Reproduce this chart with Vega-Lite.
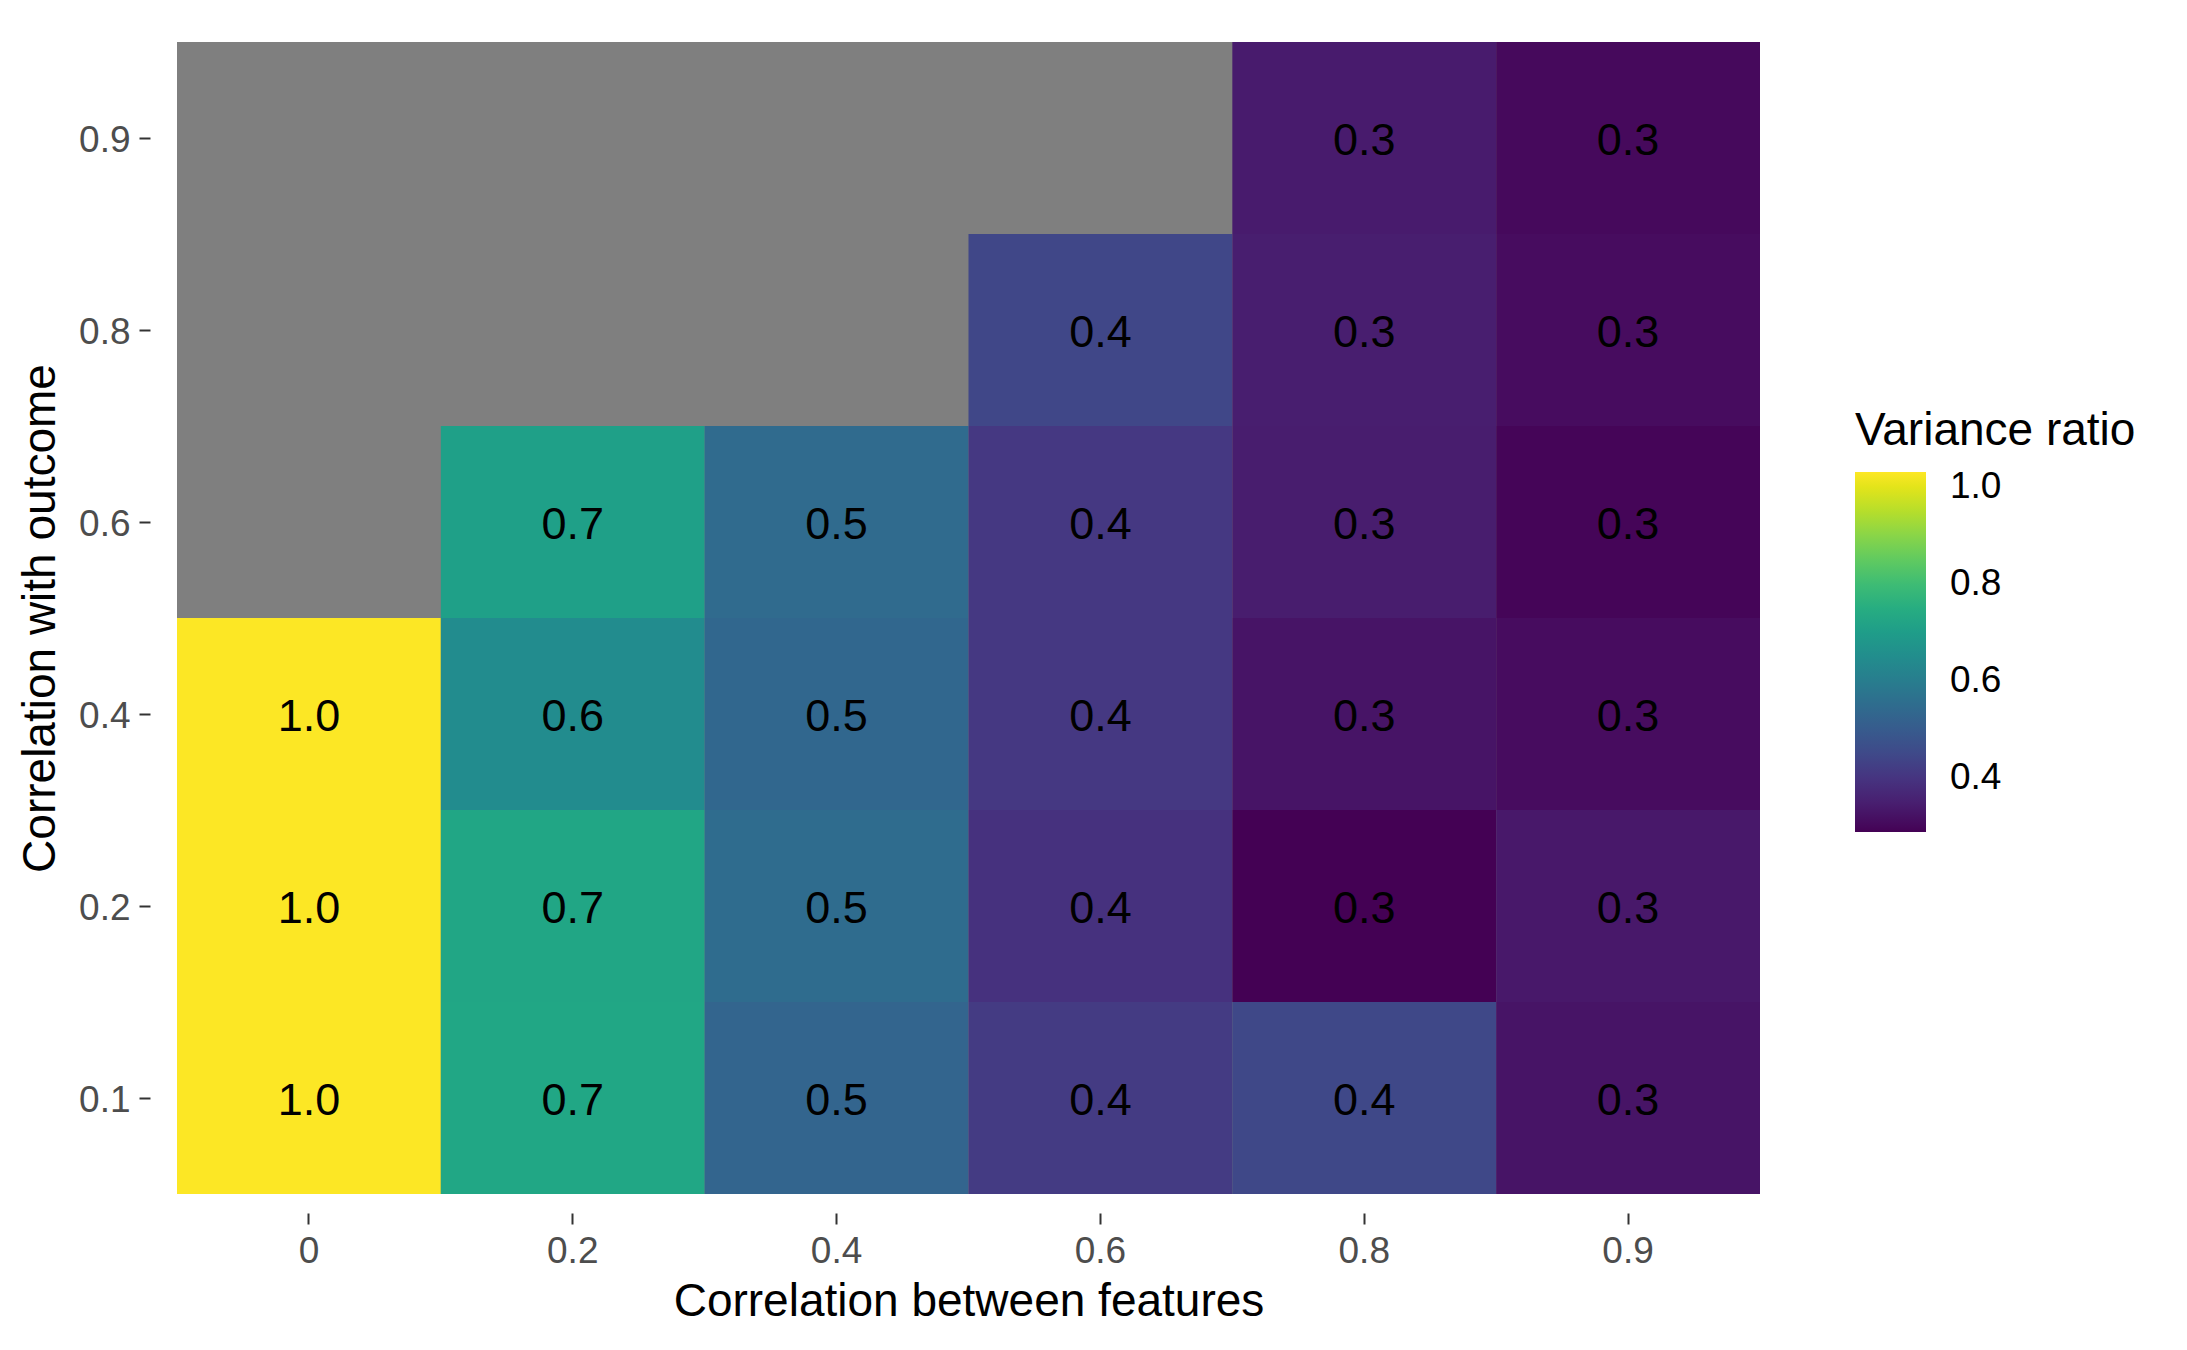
{
  "$schema": "https://vega.github.io/schema/vega-lite/v6.json",
  "width": 1583,
  "height": 1152,
  "autosize": {"type": "none"},
  "padding": {"left": 177, "top": 42, "right": 427, "bottom": 156},
  "background": "white",
  "config": {
    "view": {"stroke": null, "fill": "#7F7F7F"},
    "font": "Liberation Sans"
  },
  "data": {
    "values": [
      {"between": 0, "outcome": 0.1, "ratio": 1.03},
      {"between": 0, "outcome": 0.2, "ratio": 1.03},
      {"between": 0, "outcome": 0.4, "ratio": 1.03},
      {"between": 0.2, "outcome": 0.1, "ratio": 0.73},
      {"between": 0.2, "outcome": 0.2, "ratio": 0.727},
      {"between": 0.2, "outcome": 0.4, "ratio": 0.645},
      {"between": 0.2, "outcome": 0.6, "ratio": 0.71},
      {"between": 0.4, "outcome": 0.1, "ratio": 0.527},
      {"between": 0.4, "outcome": 0.2, "ratio": 0.549},
      {"between": 0.4, "outcome": 0.4, "ratio": 0.534},
      {"between": 0.4, "outcome": 0.6, "ratio": 0.545},
      {"between": 0.6, "outcome": 0.1, "ratio": 0.415},
      {"between": 0.6, "outcome": 0.2, "ratio": 0.393},
      {"between": 0.6, "outcome": 0.4, "ratio": 0.408},
      {"between": 0.6, "outcome": 0.6, "ratio": 0.408},
      {"between": 0.6, "outcome": 0.8, "ratio": 0.445},
      {"between": 0.8, "outcome": 0.1, "ratio": 0.447},
      {"between": 0.8, "outcome": 0.2, "ratio": 0.289},
      {"between": 0.8, "outcome": 0.4, "ratio": 0.326},
      {"between": 0.8, "outcome": 0.6, "ratio": 0.345},
      {"between": 0.8, "outcome": 0.8, "ratio": 0.348},
      {"between": 0.8, "outcome": 0.9, "ratio": 0.34},
      {"between": 0.9, "outcome": 0.1, "ratio": 0.326},
      {"between": 0.9, "outcome": 0.2, "ratio": 0.334},
      {"between": 0.9, "outcome": 0.4, "ratio": 0.31},
      {"between": 0.9, "outcome": 0.6, "ratio": 0.296},
      {"between": 0.9, "outcome": 0.8, "ratio": 0.31},
      {"between": 0.9, "outcome": 0.9, "ratio": 0.304}
    ]
  },
  "encoding": {
    "x": {
      "field": "between",
      "type": "ordinal",
      "scale": {"domain": [0, 0.2, 0.4, 0.6, 0.8, 0.9], "paddingInner": 0, "paddingOuter": 0},
      "axis": {
        "title": "Correlation between features",
        "titleFontSize": 46,
        "titleFontWeight": "normal",
        "titleColor": "black",
        "titlePadding": 10,
        "labelFontSize": 37,
        "labelColor": "#4D4D4D",
        "labelAngle": 0,
        "labelPadding": 9,
        "tickColor": "#333333",
        "tickSize": 11,
        "tickWidth": 2,
        "domain": false,
        "grid": false,
        "offset": 19
      }
    },
    "y": {
      "field": "outcome",
      "type": "ordinal",
      "scale": {"domain": [0.9, 0.8, 0.6, 0.4, 0.2, 0.1], "paddingInner": 0, "paddingOuter": 0},
      "axis": {
        "title": "Correlation with outcome",
        "titleFontSize": 46,
        "titleFontWeight": "normal",
        "titleColor": "black",
        "titlePadding": 14,
        "labelFontSize": 37,
        "labelColor": "#4D4D4D",
        "labelPadding": 9,
        "labelOffset": 3,
        "tickColor": "#333333",
        "tickSize": 11,
        "tickWidth": 2,
        "domain": false,
        "grid": false,
        "offset": 27
      }
    }
  },
  "layer": [
    {
      "mark": {"type": "rect"},
      "encoding": {
        "color": {
          "field": "ratio",
          "type": "quantitative",
          "scale": {"scheme": "viridis", "domain": [0.289, 1.031], "zero": false, "nice": false},
          "legend": {
            "title": "Variance ratio",
            "orient": "none",
            "legendX": 1678,
            "legendY": 367,
            "direction": "vertical",
            "titleFontSize": 46,
            "titleFontWeight": "normal",
            "titleColor": "black",
            "titleLimit": 600,
            "titlePadding": 17,
            "gradientLength": 360,
            "gradientThickness": 71,
            "gradientStrokeWidth": 0,
            "values": [0.4, 0.6, 0.8, 1.0],
            "format": ".1f",
            "labelFontSize": 37,
            "labelColor": "black",
            "labelOffset": 24
          }
        }
      }
    },
    {
      "mark": {"type": "text", "fontSize": 45, "color": "black", "dy": 3},
      "encoding": {
        "text": {"field": "ratio", "type": "quantitative", "format": ".1f"}
      }
    }
  ]
}
